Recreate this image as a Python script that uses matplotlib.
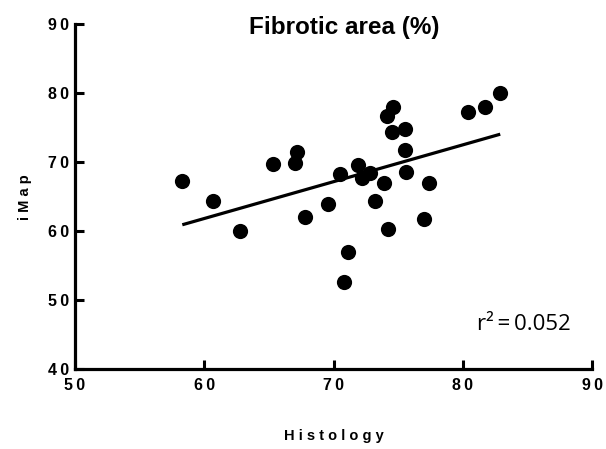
import numpy as np
import matplotlib
matplotlib.use("Agg")
import matplotlib.pyplot as plt

# ── Data ──────────────────────────────────────────────────────────────────────
histology = [58.3, 60.7, 62.8, 65.3, 67.2, 67.0, 67.8, 69.6, 70.5, 71.1, 70.8,
             71.9, 72.2, 72.8, 73.9, 73.2, 74.2, 74.6, 74.1, 74.5, 75.5,
             75.5, 75.6, 77.4, 77.0, 80.4, 81.7, 82.9]
imap      = [67.3, 64.3, 60.0, 69.7, 71.5, 69.9, 62.1, 64.0, 68.3, 57.0, 52.6,
             69.6, 67.7, 68.4, 67.0, 64.3, 60.3, 78.0, 76.7, 74.3, 74.8,
             71.7, 68.5, 67.0, 61.7, 77.2, 78.0, 80.0]

x_ticks = [50, 60, 70, 80, 90]
y_ticks = [40, 50, 60, 70, 80, 90]
r2_text = "r\u00b2\u2009=\u20090.052"

BOLD = ["Liberation Sans", "DejaVu Sans"]


def spaced(s, gap="\u2009"):
    return gap.join(s)


fig = plt.figure(figsize=(6.06, 4.49), dpi=100)
ax = fig.add_axes([0.1238, 0.1775, 0.8531, 0.769])

ax.scatter(histology, imap, s=120, color="black", zorder=3, linewidths=0)

slope, intercept = np.polyfit(histology, imap, 1)
xs = np.array([min(histology), max(histology)])
ax.plot(xs, slope * xs + intercept, color="black", linewidth=2.3,
        solid_capstyle="butt", zorder=2)

ax.set_xlim(50, 90)
ax.set_ylim(40, 90)
ax.set_xticks(x_ticks)
ax.set_yticks(y_ticks)
ax.set_xticklabels([spaced(str(t)) for t in x_ticks], family=BOLD,
                   fontweight="bold", fontsize=11.5)
ax.set_yticklabels([spaced(str(t)) for t in y_ticks], family=BOLD,
                   fontweight="bold", fontsize=11.5)
ax.tick_params(axis="both", direction="in", length=6.5, width=2.2)
ax.tick_params(axis="x", pad=6)
ax.tick_params(axis="y", pad=4)

for side in ("top", "right"):
    ax.spines[side].set_visible(False)
for side in ("left", "bottom"):
    ax.spines[side].set_linewidth(2.3)

ax.text(0.52, 0.99, "Fibrotic area (%)", transform=ax.transAxes, family=BOLD,
        fontweight="bold", fontsize=17.5, ha="center", va="center")
ax.set_xlabel(spaced("Histology", " "), family=BOLD, fontweight="bold",
              fontsize=10.5, labelpad=26)
ax.set_ylabel(spaced("iMap", " "), family=BOLD, fontweight="bold",
              fontsize=10.5, labelpad=12)

ax.text(0.778, 0.115, r2_text, transform=ax.transAxes, family="Open Sans",
        fontsize=16, ha="left", va="baseline")

fig.savefig("out.png", dpi=100)
